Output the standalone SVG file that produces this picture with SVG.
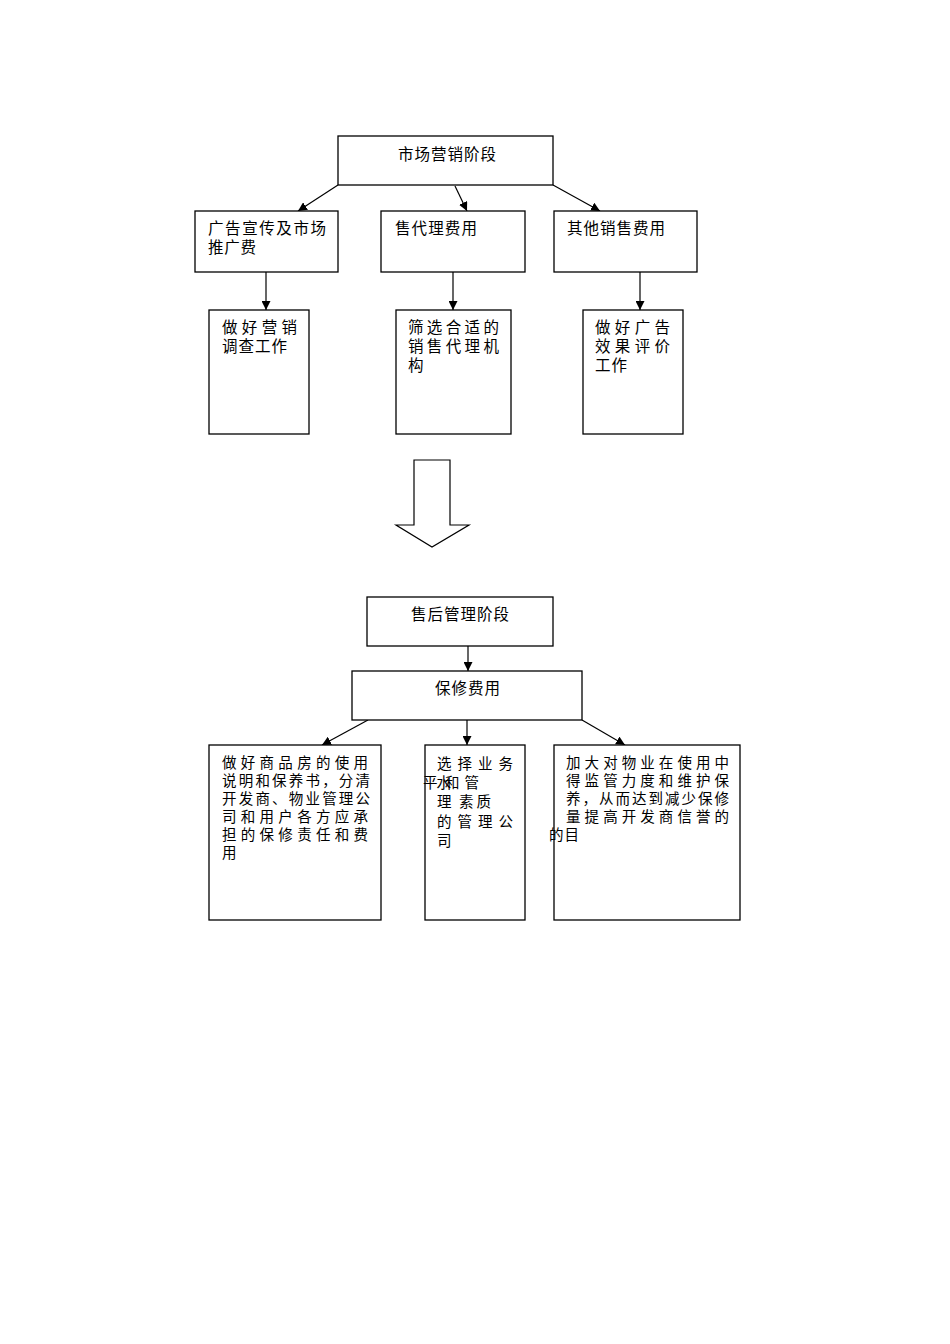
<svg xmlns="http://www.w3.org/2000/svg" width="950" height="1344" viewBox="0 0 950 1344">
<style>
rect{fill:#fff;stroke:#000;stroke-width:1.3}
text{font-family:"Noto Sans CJK SC","Liberation Serif",serif;font-size:15.5px;fill:#000}
.s{font-size:14.5px}
.c line{stroke:#000;stroke-width:1.2;marker-end:url(#a)}
</style>
<defs><marker id="a" viewBox="0 0 10 10" refX="10" refY="5" markerWidth="9" markerHeight="9" orient="auto" markerUnits="userSpaceOnUse"><path d="M0,0L10,5L0,10z"/></marker></defs>
<rect width="950" height="1344" style="stroke:none"/>
<g class="c">
<line x1="338" y1="185" x2="298" y2="211"/><line x1="455" y1="186" x2="467" y2="211"/><line x1="553" y1="185" x2="600" y2="211"/>
<line x1="266" y1="272" x2="266" y2="310"/><line x1="453" y1="272" x2="453" y2="310"/><line x1="640" y1="272" x2="640" y2="310"/>
<line x1="468" y1="646" x2="468" y2="671"/>
<line x1="368" y1="720" x2="322" y2="745"/><line x1="467" y1="720" x2="467" y2="745"/><line x1="582" y1="720" x2="625" y2="745"/>
</g>
<polygon points="414,460 450,460 450,525 469,525 432,547 396,525 414,525" fill="#fff" stroke="#000" stroke-width="1.2"/>
<g id="n1"><rect x="338" y="136" width="215" height="49"/><text x="398" y="160" textLength="98">市场营销阶段</text></g>
<g id="n2"><rect x="195" y="211" width="143" height="61"/><text x="208" y="234" textLength="118">广告宣传及市场</text><text x="208" y="253" textLength="48">推广费</text></g>
<g id="n3"><rect x="381" y="211" width="144" height="61"/><text x="395" y="234" textLength="82">售代理费用</text></g>
<g id="n4"><rect x="554" y="211" width="143" height="61"/><text x="567" y="234" textLength="98">其他销售费用</text></g>
<g id="n5"><rect x="209" y="310" width="100" height="124"/><text x="222" y="333" textLength="75">做好营销</text><text x="222" y="352" textLength="65">调查工作</text></g>
<g id="n6"><rect x="396" y="310" width="115" height="124"/><text x="408" y="333" textLength="91">筛选合适的</text><text x="408" y="352" textLength="91">销售代理机</text><text x="408" y="371">构</text></g>
<g id="n7"><rect x="583" y="310" width="100" height="124"/><text x="595" y="333" textLength="75">做好广告</text><text x="595" y="352" textLength="75">效果评价</text><text x="595" y="371" textLength="32">工作</text></g>
<g id="n8"><rect x="367" y="597" width="186" height="49"/><text x="411" y="620" textLength="98">售后管理阶段</text></g>
<g id="n9"><rect x="352" y="671" width="230" height="49"/><text x="435" y="694" textLength="65">保修费用</text></g>
<g id="n10" class="s"><rect x="209" y="745" width="172" height="175"/>
<text class="s" x="222" y="768" textLength="146">做好商品房的使用</text><text class="s" x="222" y="786" textLength="148">说明和保养书，分清</text><text class="s" x="222" y="804" textLength="148">开发商、物业管理公</text><text class="s" x="222" y="822" textLength="146">司和用户各方应承</text><text class="s" x="222" y="840" textLength="146">担的保修责任和费</text><text class="s" x="222" y="858">用</text></g>
<g id="n11"><rect x="425" y="745" width="100" height="175"/>
<text class="s" x="437" y="769" textLength="76">选择业务</text><text class="s" x="423" y="788" textLength="28">平水</text><text class="s" x="445" y="788" textLength="34">和管</text><text class="s" x="437" y="807">理</text><text class="s" x="459" y="807" textLength="32">素质</text><text class="s" x="437" y="827" textLength="76">的管理公</text><text class="s" x="437" y="846">司</text></g>
<g id="n12"><rect x="554" y="745" width="186" height="175"/>
<text class="s" x="566" y="768" textLength="163">加大对物业在使用中</text><text class="s" x="566" y="786" textLength="163">得监管力度和维护保</text><text class="s" x="566" y="804" textLength="163">养，从而达到减少保修</text><text class="s" x="566" y="822" textLength="163">量提高开发商信誉的</text><text class="s" x="549" y="840" textLength="30">的目</text></g>
</svg>
